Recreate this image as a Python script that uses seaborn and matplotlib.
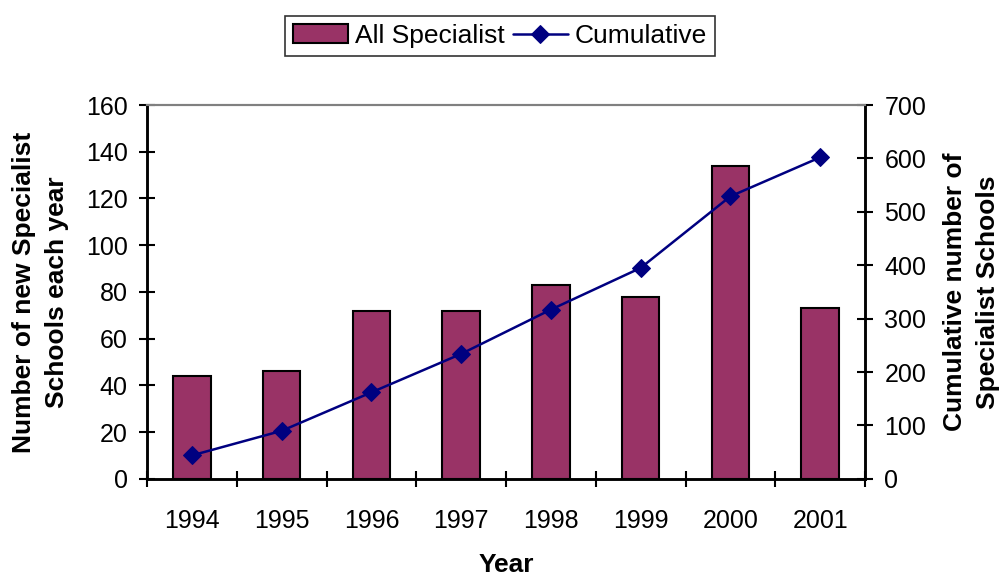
import matplotlib
matplotlib.use("Agg")
import matplotlib.pyplot as plt
import pandas as pd
import seaborn as sns
from matplotlib.ticker import FixedLocator

sns.set_theme(style="white")
plt.rcParams["font.family"] = ["Liberation Sans", "DejaVu Sans"]
plt.rcParams["text.color"] = "black"
plt.rcParams["xtick.color"] = "black"
plt.rcParams["ytick.color"] = "black"
plt.rcParams["axes.labelcolor"] = "black"

years = ["1994", "1995", "1996", "1997", "1998", "1999", "2000", "2001"]
new_schools = [44, 46, 72, 72, 83, 78, 134, 73]
cumulative = [44, 90, 162, 234, 317, 395, 529, 602]

BAR_COLOR = "#993366"
LINE_COLOR = "#000080"
TICK_FS = 18
LABEL_FS = 19

df = pd.DataFrame({"year": years, "new": new_schools, "cum": cumulative})

fig = plt.figure(figsize=(10, 5.77), dpi=100)
ax = fig.add_axes([0.147, 0.170, 0.718, 0.648])

sns.barplot(data=df, x="year", y="new", color=BAR_COLOR, width=0.42,
            edgecolor="black", linewidth=1.5, saturation=1, ax=ax,
            label="All Specialist")
ax.set_xlim(-0.5, 7.5)
ax.set_ylim(0, 160)
ax.set_yticks(range(0, 161, 20))

ax2 = ax.twinx()
sns.lineplot(data=df, x="year", y="cum", color=LINE_COLOR, marker="D",
             markersize=9, markeredgecolor=LINE_COLOR, linewidth=1.8,
             ax=ax2, label="Cumulative")
ax2.set_ylim(0, 700)
ax2.set_yticks(range(0, 701, 100))
ax2.set_xlim(-0.5, 7.5)

# x ticks sit between categories
ax.xaxis.set_minor_locator(FixedLocator([i - 0.5 for i in range(len(years) + 1)]))
ax.tick_params(axis="x", which="major", length=0, pad=22, labelsize=TICK_FS)
ax.tick_params(axis="x", which="minor", direction="inout", length=12, width=1.5,
               bottom=True)
ax.tick_params(axis="y", direction="inout", length=12, width=1.5, left=True,
               labelsize=TICK_FS, pad=8)
ax2.tick_params(axis="y", direction="inout", length=12, width=1.5, right=True,
                labelsize=TICK_FS, pad=8)

for a in (ax, ax2):
    for side in ("left", "right", "bottom"):
        a.spines[side].set_color("black")
        a.spines[side].set_linewidth(1.8)
    a.spines["top"].set_color("#808080")
    a.spines["top"].set_linewidth(1.5)

ax.set_xlabel("Year", fontsize=LABEL_FS, fontweight="bold", labelpad=14)
ax.set_ylabel("Number of new Specialist\nSchools each year", fontsize=LABEL_FS,
              fontweight="bold", labelpad=12, linespacing=1.45)
ax2.set_ylabel("Cumulative number of\nSpecialist Schools", fontsize=LABEL_FS,
               fontweight="bold", labelpad=12, linespacing=1.45)

h1, l1 = ax.get_legend_handles_labels()
h2, l2 = ax2.get_legend_handles_labels()
if ax.get_legend():
    ax.get_legend().remove()
if ax2.get_legend():
    ax2.get_legend().remove()
leg = fig.legend(h1 + h2, l1 + l2, loc="center", bbox_to_anchor=(0.5, 0.938),
                 ncol=2, fontsize=LABEL_FS, frameon=True, fancybox=False,
                 edgecolor="black", handlelength=2.1, columnspacing=0.3,
                 handletextpad=0.25, borderpad=0.3, borderaxespad=0.2)
leg.get_frame().set_linewidth(1.2)

fig.savefig("out.png", dpi=100)
